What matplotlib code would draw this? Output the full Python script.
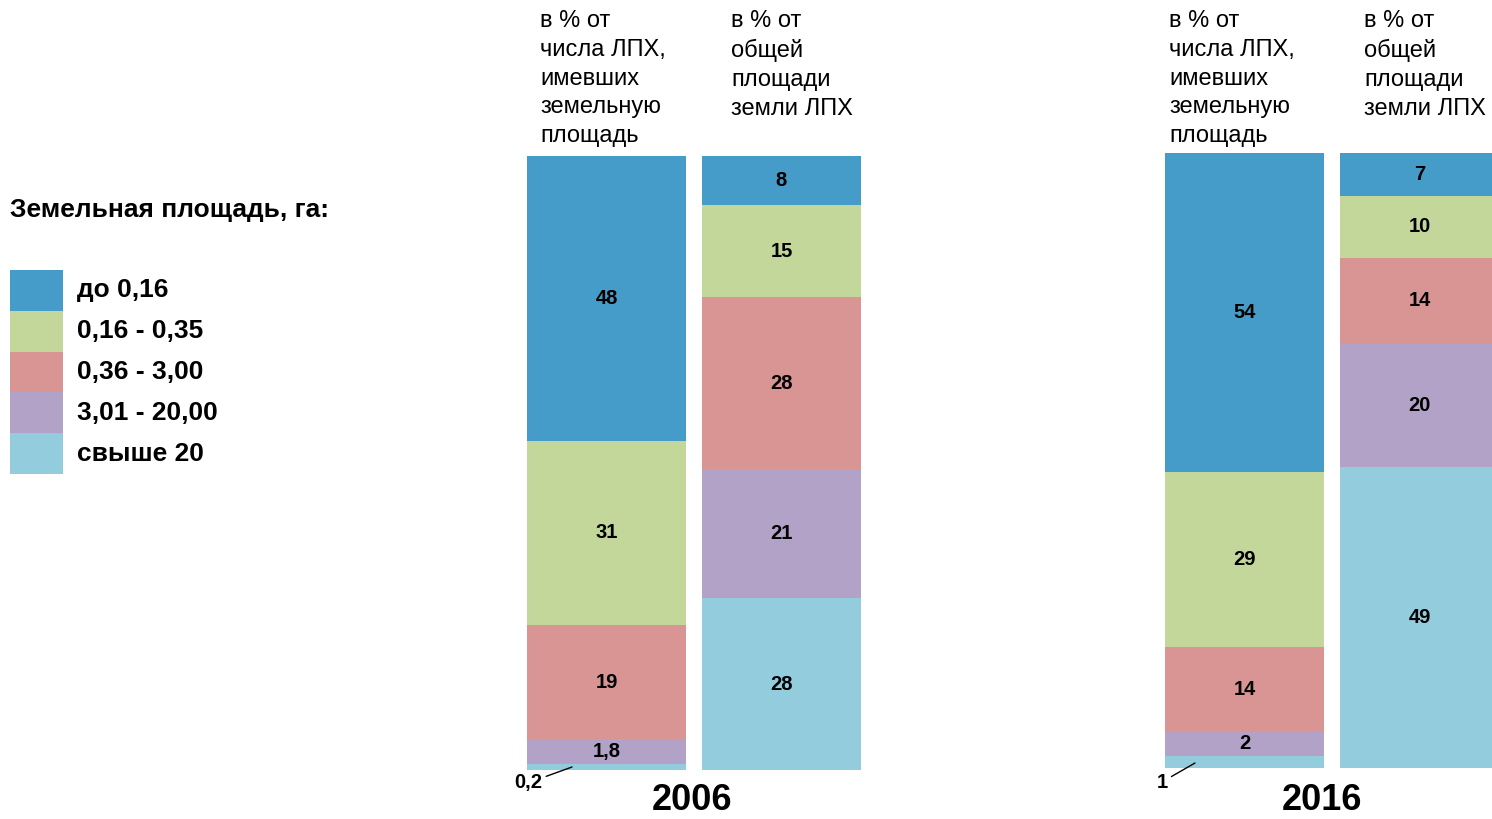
import matplotlib
matplotlib.use("Agg")
import matplotlib.pyplot as plt
from matplotlib.patches import Rectangle

plt.rcParams['font.family'] = ['Liberation Sans', 'DejaVu Sans']

categories = ["до 0,16", "0,16 - 0,35", "0,36 - 3,00", "3,01 - 20,00", "свыше 20"]
colors = ["#459CC8", "#C4D79B", "#D99594", "#B2A2C7", "#93CDDD"]
years = ["2006", "2016"]
bar_headers = ["в % от\nчисла ЛПХ,\nимевших\nземельную\nплощадь",
               "в % от\nобщей\nплощади\nземли ЛПХ"]
# segment heights as drawn in the picture (top -> bottom category order)
hh_2006 = [46.4, 30.0, 18.6, 4.0, 1.0]
land_2006 = [8, 15, 28, 21, 28]
hh_2016 = [52.0, 28.5, 13.7, 3.9, 2.0]
land_2016 = [7, 10, 14, 20, 49]
# printed value labels
labels_2006_hh = ["48", "31", "19", "1,8", "0,2"]
labels_2006_land = ["8", "15", "28", "21", "28"]
labels_2016_hh = ["54", "29", "14", "2", "1"]
labels_2016_land = ["7", "10", "14", "20", "49"]

W, H = 1492, 819
fig = plt.figure(figsize=(W / 100, H / 100), dpi=100)

bw = 159 / 175.0
half = bw / 2
VFS = 14.5


def make_axes(x0px, x1px, ytop, ybot):
    ax = fig.add_axes([x0px / W, 1 - ybot / H, (x1px - x0px) / W, (ybot - ytop) / H])
    span = (x1px - x0px) / 175.0
    ax.set_xlim(-half, -half + span)
    ax.set_ylim(0, 100)
    ax.axis('off')
    return ax


def draw_stack(ax, pos, vals, labels, small_outside=False):
    bottom = 0
    for i in reversed(range(len(vals))):
        v = vals[i]
        ax.bar(pos, v, width=bw, bottom=bottom, color=colors[i], linewidth=0)
        if not (small_outside and i == len(vals) - 1):
            ax.text(pos, bottom + v / 2, labels[i], ha='center', va='center',
                    fontsize=VFS, fontweight='bold', color='black')
        bottom += v


ax1 = make_axes(527, 861, 156, 770)
draw_stack(ax1, 0, hh_2006, labels_2006_hh, small_outside=True)
draw_stack(ax1, 1, land_2006, labels_2006_land)
ax1.annotate(labels_2006_hh[-1], xy=(-0.197, 0.49), xytext=(-0.368, -2.1),
             fontsize=VFS, fontweight='bold', ha='right', va='center',
             arrowprops=dict(arrowstyle='-', color='black', lw=1.0, shrinkA=1, shrinkB=0),
             annotation_clip=False)

ax2 = make_axes(1165, 1492, 153, 768)
draw_stack(ax2, 0, hh_2016, labels_2016_hh, small_outside=True)
draw_stack(ax2, 1, land_2016, labels_2016_land)
ax2.annotate(labels_2016_hh[-1], xy=(-0.283, 0.81), xytext=(-0.44, -2.28),
             fontsize=VFS, fontweight='bold', ha='right', va='center',
             arrowprops=dict(arrowstyle='-', color='black', lw=1.0, shrinkA=1, shrinkB=0),
             annotation_clip=False)

# year labels
fig.text(692 / W, 1 - 800 / H, years[0], ha='center', va='center', fontsize=26, fontweight='bold')
fig.text(1322 / W, 1 - 800 / H, years[1], ha='center', va='center', fontsize=26, fontweight='bold')

# headers
for x, txt in [(540, bar_headers[0]), (731, bar_headers[1]),
               (1169, bar_headers[0]), (1364, bar_headers[1])]:
    fig.text(x / W, 1 - 10 / H, txt, ha='left', va='top', fontsize=17,
             linespacing=1.4, color='black')

# legend
fig.text(10 / W, 1 - 210 / H, "Земельная площадь, га:", ha='left', va='center',
         fontsize=19, fontweight='bold')
row_h = 40.8
for i, (c, lab) in enumerate(zip(colors, categories)):
    y_top = 270 + i * row_h
    fig.add_artist(Rectangle((10 / W, 1 - (y_top + row_h) / H), 53 / W, row_h / H,
                             transform=fig.transFigure, facecolor=c, edgecolor='none'))
    fig.text(77 / W, 1 - (y_top + row_h / 2) / H, lab, ha='left', va='center',
             fontsize=19, fontweight='bold')

fig.savefig("out.png", dpi=100)
